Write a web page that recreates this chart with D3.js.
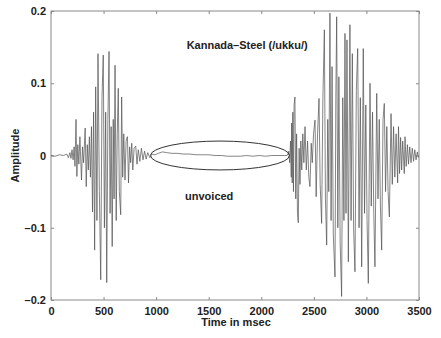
<!DOCTYPE html>
<html>
<head>
<meta charset="utf-8">
<script src="https://cdn.jsdelivr.net/npm/d3@7"></script>
<style>
  html, body { margin: 0; padding: 0; background: #fff; }
  svg { display: block; }
  text { font-family: "Liberation Sans", Arial, Helvetica, sans-serif; font-weight: bold; }
</style>
</head>
<body>
<div id="chart"></div>
<script>
/* Speech waveform — Kannada "Steel" (/ukku/), amplitude vs time in msec.
   Values are peaks, [msec, amplitude]. */

var xTicks = [0, 500, 1000, 1500, 2000, 2500, 3000, 3500];
var yTicks = [-0.2, -0.1, 0, 0.1, 0.2];

/* first voiced burst (/u/ + /k/ release) */
var burst1 = [
  [0, 0], [40, -0.001], [80, 0.001], [120, 0], [150, 0.002], [165, -0.003],
  [180, 0.004], [190, -0.004], [200, 0.008], [210, -0.006], [220, 0.012],
  [228, -0.015], [238, 0.050], [246, -0.029], [255, 0.015], [265, -0.012],
  [275, 0.026], [290, -0.034], [300, 0.012], [310, -0.010], [325, 0.038],
  [335, -0.043], [345, 0.015], [355, -0.020], [365, 0.026], [375, -0.030],
  [385, 0.040], [395, -0.078], [405, 0.060], [415, -0.131], [425, 0.095],
  [437, -0.090], [447, 0.141], [460, -0.050], [473, -0.172], [485, 0.080],
  [497, 0.139], [508, -0.100], [520, 0.060], [530, -0.176], [541, 0.050],
  [552, 0.144], [562, -0.080], [572, 0.040], [582, -0.126], [592, 0.050],
  [600, -0.060], [609, 0.125], [620, -0.090], [630, 0.030], [640, 0.093],
  [650, -0.050], [663, -0.082], [672, 0.081], [682, -0.030], [692, 0.030],
  [704, -0.034], [714, 0.020], [727, 0.026], [737, -0.038], [748, 0.012],
  [758, -0.010], [768, 0.017], [778, -0.020], [790, 0.010], [806, 0.013],
  [818, -0.012], [830, 0.008], [845, -0.008], [860, 0.010], [875, -0.006],
  [890, 0.006], [905, -0.005], [920, 0.004], [940, -0.003]
];

/* unvoiced stretch (the circled part) */
var unvoiced = [
  [960, 0.002], [990, 0.001], [1020, 0.003], [1060, 0.005], [1100, 0.004],
  [1150, 0.003], [1200, 0.003], [1260, 0.002], [1320, 0.002], [1380, 0.001],
  [1440, 0.001], [1500, 0.001], [1560, 0.000], [1620, 0.000], [1680, -0.001],
  [1740, -0.001], [1800, -0.001], [1860, 0.000], [1920, -0.001], [1980, 0.000],
  [2040, -0.001], [2100, 0.000], [2160, 0.000], [2220, 0.000], [2245, 0.000]
];

/* second voiced burst (/kk/ release + /u/) */
var burst2 = [
  [2255, 0.003], [2262, 0.006], [2270, -0.010], [2278, 0.020], [2285, -0.030],
  [2289, 0.045], [2294, -0.038], [2300, 0.060], [2306, -0.050], [2312, 0.070],
  [2320, 0.081], [2328, -0.060], [2336, 0.030], [2344, -0.080], [2352, -0.093],
  [2360, 0.010], [2368, -0.040], [2376, 0.020], [2385, -0.020], [2395, 0.030],
  [2405, -0.010], [2416, 0.040], [2428, -0.020], [2440, 0.020], [2452, -0.030],
  [2463, -0.043], [2475, 0.017], [2485, -0.010], [2497, 0.030], [2511, 0.049],
  [2522, -0.057], [2535, 0.030], [2549, 0.079], [2560, -0.040], [2574, -0.094],
  [2586, 0.080], [2600, 0.174], [2610, -0.060], [2622, -0.124], [2632, 0.050],
  [2642, -0.050], [2653, 0.197], [2664, -0.090], [2673, 0.123], [2685, -0.110],
  [2701, -0.168], [2709, 0.080], [2717, 0.192], [2728, -0.100], [2738, 0.109],
  [2750, -0.120], [2764, -0.195], [2775, 0.080], [2786, -0.090], [2796, 0.169],
  [2806, -0.080], [2815, 0.160], [2828, -0.147], [2843, 0.181], [2854, -0.090],
  [2866, 0.141], [2878, -0.100], [2891, -0.161], [2904, 0.090], [2917, 0.148],
  [2930, -0.100], [2942, 0.080], [2955, -0.154], [2970, 0.148], [2982, -0.080],
  [2994, 0.070], [3006, -0.090], [3018, -0.177], [3034, 0.100], [3046, -0.070],
  [3058, 0.060], [3070, -0.080], [3081, -0.154], [3098, 0.086], [3110, -0.060],
  [3122, 0.050], [3133, -0.070], [3145, -0.131], [3158, 0.050], [3170, 0.072],
  [3182, -0.050], [3194, 0.040], [3206, -0.050], [3218, -0.085], [3234, 0.058],
  [3246, -0.040], [3258, 0.040], [3270, -0.030], [3282, 0.030], [3297, -0.038],
  [3305, 0.040], [3315, -0.025], [3325, 0.025], [3335, -0.020], [3345, 0.020],
  [3360, -0.025], [3367, 0.026], [3378, -0.015], [3390, 0.015], [3400, -0.012],
  [3412, 0.012], [3424, -0.010], [3436, 0.010], [3448, -0.008], [3460, 0.008],
  [3472, -0.006], [3484, 0.005], [3495, -0.003]
];

/* annotations: ellipse round the unvoiced part, in data units */
var ellipse = { t: 1607, a: 0, rt: 661, ra: 0.020 };
var title = { text: "Kannada\u2013Steel (/ukku/)", t: 1290, a: 0.148 };
var note = { text: "unvoiced", t: 1275, a: -0.062 };

var W = 441, H = 338;
var m = { left: 51, right: 22, top: 11, bottom: 38 };
var iw = W - m.left - m.right, ih = H - m.top - m.bottom;

var x = d3.scaleLinear().domain([0, 3500]).range([m.left, m.left + iw]);
var y = d3.scaleLinear().domain([-0.2, 0.2]).range([m.top + ih, m.top]);

var svg = d3.select("#chart").append("svg")
  .attr("width", W).attr("height", H);

var axisColor = "#8a8a8a";
var fmt = function (d) { return d === 0 ? "0" : (d < 0 ? "\u2013" : "") + Math.abs(d).toFixed(1); };

function styleAxis(g) {
  g.select(".domain").remove();
  g.selectAll(".tick line").attr("stroke", axisColor);
  g.selectAll(".tick text").attr("fill", "#222").attr("font-size", 11);
}

svg.append("g")
  .attr("transform", "translate(0," + (m.top + ih) + ")")
  .call(d3.axisBottom(x).tickValues(xTicks).tickSizeInner(-3).tickSizeOuter(0).tickPadding(7).tickFormat(d3.format("d")))
  .call(styleAxis);
svg.append("g")
  .attr("transform", "translate(0," + m.top + ")")
  .call(d3.axisTop(x).tickValues(xTicks).tickSizeInner(-3).tickSizeOuter(0).tickFormat(""))
  .call(styleAxis);
svg.append("g")
  .attr("transform", "translate(" + m.left + ",0)")
  .call(d3.axisLeft(y).tickValues(yTicks).tickSizeInner(-3).tickSizeOuter(0).tickPadding(5).tickFormat(fmt))
  .call(styleAxis);
svg.append("g")
  .attr("transform", "translate(" + (m.left + iw) + ",0)")
  .call(d3.axisRight(y).tickValues(yTicks).tickSizeInner(-3).tickSizeOuter(0).tickFormat(""))
  .call(styleAxis);

/* frame */
svg.append("rect")
  .attr("x", m.left).attr("y", m.top)
  .attr("width", iw).attr("height", ih)
  .attr("fill", "none").attr("stroke", axisColor).attr("stroke-width", 1);

/* waveform */
var line = d3.line()
  .x(function (d) { return x(d[0]); })
  .y(function (d) { return y(d[1]); });

svg.append("path")
  .datum(burst1.concat(unvoiced, burst2))
  .attr("d", line)
  .attr("fill", "none")
  .attr("stroke", "#505050")
  .attr("stroke-width", 0.7)
  .attr("stroke-linejoin", "round");

/* annotations */
svg.append("ellipse")
  .attr("cx", x(ellipse.t)).attr("cy", y(ellipse.a))
  .attr("rx", x(ellipse.t + ellipse.rt) - x(ellipse.t))
  .attr("ry", y(0) - y(ellipse.ra))
  .attr("fill", "none").attr("stroke", "#333").attr("stroke-width", 1);

svg.append("text")
  .attr("x", x(title.t)).attr("y", y(title.a))
  .attr("fill", "#222").attr("font-size", 11)
  .text(title.text);

svg.append("text")
  .attr("x", x(note.t)).attr("y", y(note.a))
  .attr("fill", "#222").attr("font-size", 11)
  .text(note.text);

/* axis titles */
svg.append("text")
  .attr("x", m.left + iw / 2 + 1).attr("y", 326)
  .attr("text-anchor", "middle").attr("fill", "#222").attr("font-size", 11)
  .text("Time in msec");

svg.append("text")
  .attr("transform", "translate(19," + (m.top + ih / 2) + ") rotate(-90)")
  .attr("text-anchor", "middle").attr("fill", "#222").attr("font-size", 11)
  .text("Amplitude");
</script>
</body>
</html>
